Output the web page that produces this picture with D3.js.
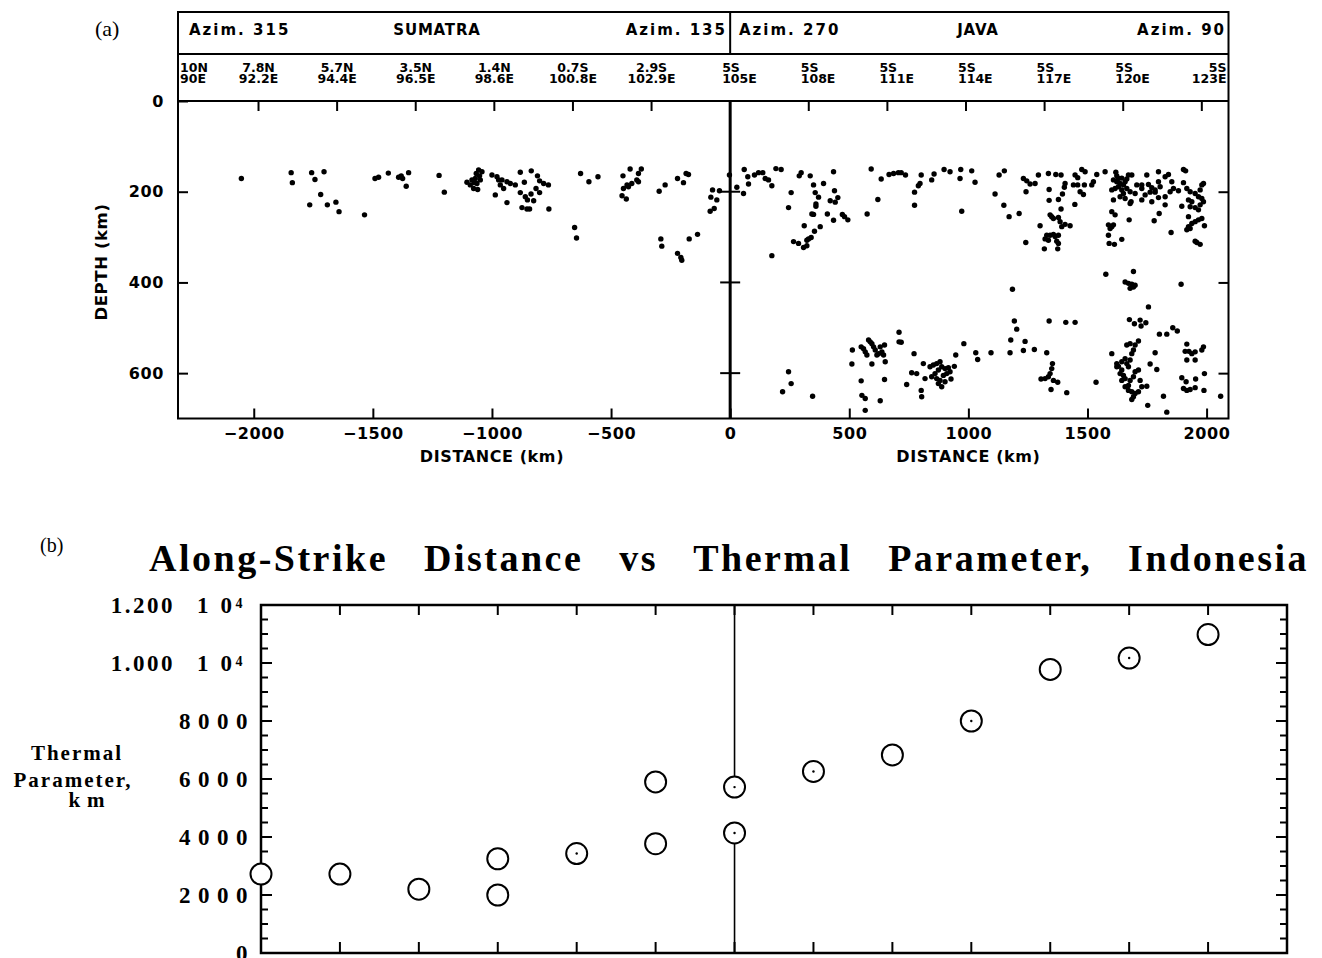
<!DOCTYPE html>
<html>
<head>
<meta charset="utf-8">
<script src="https://cdn.jsdelivr.net/npm/d3@7"></script>
<style>
  body { margin: 0; background: #fff; overflow: hidden; }
</style>
</head>
<body>
<div id="chart"></div>
<script>
// ---------------- data ----------------

// panel (a): earthquakes, [distance km, depth km]
const sumatraQuakes = [
  [-2052,171],[-1843,158],[-1838,180],[-1757,158],[-1743,173],[-1705,156],[-1719,206],[-1765,229],
  [-1691,229],[-1655,223],[-1642,244],[-1535,251],[-1491,171],[-1476,168],[-1435,159],[-1392,168],
  [-1375,171],[-1350,158],[-1360,188],[-1381,165],[-1222,164],[-1200,201],
  [-1105,179],[-1084,174],[-1077,193],[-1056,152],[-1042,156],[-1063,182],[-1049,174],[-1070,171],
  [-1091,185],[-1060,195],[-1066,160],[-1052,165],[-1075,180],
  [-1000,163],[-979,167],[-958,174],[-965,185],[-937,178],[-923,182],[-951,193],[-972,174],[-902,185],
  [-986,207],[-937,224],
  [-881,157],[-835,154],[-809,165],[-864,179],[-800,176],[-783,182],[-763,185],[-815,193],[-881,202],
  [-860,211],[-836,205],[-800,202],[-825,220],[-851,218],[-874,235],[-853,238],[-842,238],[-761,238],
  [-628,160],[-593,178],[-555,167],[-653,279],[-645,302],
  [-450,165],[-420,150],[-373,150],[-385,160],[-392,174],[-413,182],[-433,185],[-448,193],[-385,178],
  [-454,209],[-436,216],[-427,189],
  [-298,199],[-273,185],[-221,171],[-196,180],[-185,160],[-175,162],
  [-291,304],[-287,320],[-172,304],[-137,294],[-221,336],[-207,345],[-203,351],
  [-74,196],[-45,198],[-81,212],[-56,218],[-67,237],[-84,243],[-3,163]
];

const javaQuakes = [
  [59,151],[28,190],[56,204],[74,167],[77,183],[102,163],[119,158],[137,158],[147,171],[161,174],
  [175,187],[192,149],[214,151],[256,202],[245,235],[298,158],[290,165],[336,165],[350,185],[357,202],
  [371,212],[392,182],[434,156],[438,198],[452,213],[420,220],[441,223],[360,227],[360,232],[343,249],
  [350,250],[408,249],[434,263],[471,250],[480,255],[494,262],[311,275],[378,277],[354,287],[340,301],
  [322,307],[329,304],[266,310],[287,314],[308,323],[322,319],[175,341],
  [592,150],[575,249],[620,217],[634,172],[667,162],[686,160],[706,158],[718,158],[736,163],[802,163],
  [797,182],[790,187],[774,201],[774,230],[846,174],[856,161],[898,151],[923,156],[968,151],[965,171],
  [1014,154],[1028,179],[972,243],
  [1112,205],[1129,163],[1151,154],[1149,230],[1171,255],[1213,248],[1231,171],[1245,176],[1242,200],
  [1259,183],[1280,182],[1294,163],[1336,160],[1367,162],[1389,163],[1339,195],[1378,217],[1339,219],
  [1395,205],[1406,182],[1403,190],[1448,163],[1459,169],[1441,185],[1459,185],[1476,151],[1490,156],
  [1469,200],[1483,206],[1487,185],[1518,185],[1525,178],[1539,162],[1574,156],[1447,228],[1389,238],
  [1343,251],[1350,255],[1357,259],[1378,257],[1385,266],[1392,277],[1406,272],[1427,275],[1301,275],
  [1329,296],[1343,296],[1357,294],[1364,299],[1378,296],[1322,304],[1336,307],[1371,309],[1378,314],
  [1319,326],[1375,326],[1241,312],
  [1609,174],[1623,178],[1637,182],[1651,185],[1658,178],[1630,189],[1616,193],[1644,196],[1665,193],
  [1679,200],[1651,204],[1630,171],[1672,163],[1686,163],[1619,157],[1602,196],[1637,211],[1658,215],
  [1683,222],[1679,226],[1609,218],[1700,204],[1728,185],[1749,163],[1756,184],[1770,191],[1798,156],
  [1798,178],[1784,196],[1805,189],[1826,167],[1840,162],[1854,178],[1861,193],[1847,200],[1882,198],
  [1826,211],[1798,213],[1770,222],[1763,201],[1742,207],[1728,218],[1784,201],[1826,229],[1707,185],
  [1728,193],[1644,170],[1665,172],[1623,165],
  [1903,151],[1912,154],[1903,180],[1917,193],[1931,200],[1952,204],[1973,196],[1980,185],[1987,182],
  [1924,218],[1938,222],[1966,211],[1980,215],[1987,222],[1973,229],[1952,235],[1931,233],[1896,232],
  [1966,240],[1924,255],[1938,270],[1952,266],[1966,262],[1980,259],[1917,284],[1931,281],[1924,277],
  [1991,275],[1952,309],[1959,312],[1973,316],[1851,290],[1780,264],[1801,248],
  [1602,244],[1616,251],[1588,273],[1602,277],[1595,281],[1609,273],[1588,296],[1591,314],[1613,316],
  [1644,305],[1675,262],[1577,382],[1693,376],
  [245,597],[256,623],[220,641],[346,651],
  [513,549],[511,580],[550,542],[560,546],[567,553],[574,560],[581,527],[588,531],[595,535],[602,542],
  [609,549],[616,560],[623,557],[630,542],[637,553],[648,538],[651,575],[595,580],[644,560],[550,617],
  [553,649],[567,656],[567,682],[630,661],[648,614],
  [709,510],[709,531],[718,532],[772,557],[762,599],[783,601],[811,579],[818,612],[802,638],[804,652],
  [741,625],
  [839,586],[853,582],[867,579],[881,575],[888,586],[902,590],[916,588],[874,593],[860,601],[846,608],
  [867,612],[881,616],[874,623],[888,630],[902,619],[895,605],[909,601],[923,597],[941,585],[927,613],
  [947,560],
  [981,535],[1031,555],[1039,570],[1095,555],[1175,555],[1178,527],[1193,485],[1203,503],[1185,415],
  [1231,550],[1238,530],[1277,548],[1329,555],[1339,485],[1409,488],[1448,488],
  [1305,613],[1322,612],[1336,608],[1343,601],[1350,590],[1353,579],[1357,616],[1375,620],[1347,636],
  [1413,643],[1536,620],
  [1602,557],[1623,579],[1630,585],[1644,575],[1658,568],[1665,579],[1672,586],[1679,571],[1686,557],
  [1693,549],[1665,538],[1679,535],[1700,538],[1714,529],[1637,601],[1651,605],[1658,612],[1679,616],
  [1693,608],[1700,597],[1714,593],[1721,616],[1644,616],[1658,630],[1672,638],[1686,641],[1700,645],
  [1714,641],[1728,630],[1749,629],[1693,652],[1686,658],[1753,671],[1672,627],[1644,593],[1623,586],
  [1676,482],[1697,491],[1721,483],[1725,496],[1745,489],[1756,454],[1784,555],[1763,580],[1791,592],
  [1802,514],[1833,514],[1858,500],[1877,507],[1819,651],[1833,686],
  [1917,536],[1910,552],[1926,552],[1938,557],[1952,553],[1980,549],[1987,542],[1917,571],[1952,571],
  [1896,610],[1914,619],[1954,613],[1903,634],[1917,638],[1931,636],[1952,632],[1989,638],[1991,601],
  [2059,651],
  [1658,399],[1672,402],[1686,404],[1700,406],[1679,413],[1693,410],[1893,404]
];

// header of panel (a)
const sumatraLocs = [["10N","90E"],["7.8N","92.2E"],["5.7N","94.4E"],["3.5N","96.5E"],
                     ["1.4N","98.6E"],["0.7S","100.8E"],["2.9S","102.9E"]];
const javaLocs = [["5S","105E"],["5S","108E"],["5S","111E"],["5S","114E"],
                  ["5S","117E"],["5S","120E"],["5S","123E"]];
const locStep = 330; // km between location marks
const distTicks = [-2000, -1500, -1000, -500, 0, 500, 1000, 1500, 2000];
const depthTicks = [0, 200, 400, 600];

// panel (b): thermal parameter at the location marks (step index from 5S 105E)
const thermalStep = [-6, -5, -4, -3, -3, -2, -1, -1, 0, 0, 1, 2, 3, 4, 5, 6];
const thermalValue = [2720, 2720, 2200, 3250, 2000, 3430, 5900, 3770, 5720, 4140,
                      6260, 6830, 8000, 9780, 10170, 10980];
const thermalDotted = [0, 0, 0, 0, 0, 1, 0, 0, 1, 1, 1, 0, 1, 0, 1, 0];
const thermalTicks = [0, 2000, 4000, 6000, 8000, 10000, 12000];

// ---------------- drawing ----------------

const W = 1322, H = 958;
const sans = "'DejaVu Sans', sans-serif";
const serif = "'Liberation Serif', 'Times New Roman', serif";

const svg = d3.select("#chart").append("svg")
  .attr("width", W).attr("height", H)
  .attr("viewBox", `0 0 ${W} ${H}`);

////////////////// panel (a) //////////////////

const x = d3.scaleLinear().domain([-2318, 2092]).range([178, 1228.5]);
const y = d3.scaleLinear().domain([0, 700]).range([101, 418.5]);
const headTop = 12, headMid = 54;

const a = svg.append("g");

a.append("text")
  .attr("x", 95).attr("y", 36)
  .style("font", `22px ${serif}`)
  .text("(a)");

// frame incl. header
a.append("rect")
  .attr("x", x.range()[0]).attr("y", headTop)
  .attr("width", x.range()[1] - x.range()[0])
  .attr("height", y.range()[1] - headTop)
  .attr("fill", "none").attr("stroke", "#000").attr("stroke-width", 2);
[headMid, y.range()[0]].forEach((yy) => {
  a.append("line")
    .attr("x1", x.range()[0]).attr("x2", x.range()[1])
    .attr("y1", yy).attr("y2", yy)
    .attr("stroke", "#000").attr("stroke-width", 2);
});
// divider between the two sections
a.append("line")
  .attr("x1", x(0)).attr("x2", x(0)).attr("y1", headTop).attr("y2", headMid)
  .attr("stroke", "#000").attr("stroke-width", 2);
a.append("line")
  .attr("x1", x(0)).attr("x2", x(0)).attr("y1", y.range()[0]).attr("y2", y.range()[1])
  .attr("stroke", "#000").attr("stroke-width", 3);

// azimuth row
const azim = [
  { t: "Azim. 315", x: 189, anchor: "start" },
  { t: "SUMATRA", x: 437, anchor: "middle" },
  { t: "Azim. 135", x: 727, anchor: "end" },
  { t: "Azim. 270", x: 739, anchor: "start" },
  { t: "JAVA", x: 978, anchor: "middle" },
  { t: "Azim. 90", x: 1226, anchor: "end" }
];
a.selectAll(".azim").data(azim).enter().append("text")
  .attr("class", "azim")
  .attr("x", (d) => d.x).attr("y", 35)
  .attr("text-anchor", (d) => d.anchor)
  .style("font", `bold 15px ${sans}`)
  .style("letter-spacing", (d) => d.t.startsWith("Azim") ? "2px" : "0.8px")
  .text((d) => d.t);

// location row
const locs = sumatraLocs.map((l, i) => ({ l, k: i - 7 }))
  .concat(javaLocs.map((l, i) => ({ l, k: i })));
const locText = a.selectAll(".loc").data(locs).enter().append("text")
  .attr("class", "loc")
  .style("font", `bold 12.5px ${sans}`)
  .attr("text-anchor", (d) => d.k === -7 ? "start" : d.k === 6 ? "end" : d.k < 0 ? "middle" : "start")
  .attr("transform", (d) => {
    let px = x(d.k * locStep);
    if (d.k === -7) px = x.range()[0] + 2;
    else if (d.k === 6) px = x.range()[1] - 2;
    else if (d.k >= 0) px -= 8;
    return `translate(${px},0)`;
  });
locText.append("tspan").attr("x", 0).attr("y", 71.5).text((d) => d.l[0]);
locText.append("tspan").attr("x", 0).attr("y", 83).text((d) => d.l[1]);

// location ticks along the top of the plot
a.selectAll(".locTick").data(d3.range(-6, 7).filter((k) => k !== 0)).enter().append("line")
  .attr("x1", (k) => x(k * locStep)).attr("x2", (k) => x(k * locStep))
  .attr("y1", y.range()[0]).attr("y2", y.range()[0] + 10)
  .attr("stroke", "#000").attr("stroke-width", 2);

// distance axis
const xAxis = a.append("g")
  .attr("transform", `translate(0,${y.range()[1]})`)
  .call(d3.axisBottom(x).tickValues(distTicks).tickFormat(d3.format("d"))
    .tickSizeInner(-10).tickSizeOuter(0).tickPadding(9));
xAxis.select(".domain").remove();
xAxis.selectAll("line").attr("stroke-width", 2);
xAxis.selectAll("text")
  .style("font", `bold 16px ${sans}`)
  .style("letter-spacing", "0.6px")
  .attr("fill", "#000");

// depth axis left, ticks on the right frame and on the divider
const yAxis = a.append("g")
  .attr("transform", `translate(${x.range()[0]},0)`)
  .call(d3.axisLeft(y).tickValues(depthTicks).tickSizeInner(-10).tickSizeOuter(0).tickPadding(14));
yAxis.select(".domain").remove();
yAxis.selectAll("line").attr("stroke-width", 2);
yAxis.selectAll("text")
  .style("font", `bold 16px ${sans}`)
  .style("letter-spacing", "0.6px")
  .attr("fill", "#000");

const yRight = a.append("g")
  .attr("transform", `translate(${x.range()[1]},0)`)
  .call(d3.axisRight(y).tickValues(depthTicks.slice(1)).tickSizeInner(-10).tickSizeOuter(0).tickFormat(""));
yRight.select(".domain").remove();
yRight.selectAll("line").attr("stroke-width", 2);

a.selectAll(".midTick").data(depthTicks.slice(1)).enter().append("line")
  .attr("x1", x(0) - 10).attr("x2", x(0) + 10)
  .attr("y1", (d) => y(d)).attr("y2", (d) => y(d))
  .attr("stroke", "#000").attr("stroke-width", 2);

// axis titles
a.append("text")
  .attr("transform", `translate(107,262) rotate(-90)`)
  .attr("text-anchor", "middle")
  .style("font", `bold 16.5px ${sans}`)
  .style("letter-spacing", "0.6px")
  .text("DEPTH (km)");
[-1000, 1000].forEach((d) => {
  a.append("text")
    .attr("x", x(d)).attr("y", 462)
    .attr("text-anchor", "middle")
    .style("font", `bold 16px ${sans}`)
    .style("letter-spacing", "0.6px")
    .text("DISTANCE (km)");
});

// hypocentres
a.selectAll(".quake").data(sumatraQuakes.concat(javaQuakes)).enter().append("circle")
  .attr("class", "quake")
  .attr("cx", (d) => x(d[0]))
  .attr("cy", (d) => y(d[1]))
  .attr("r", 2.7)
  .attr("fill", "#000");

////////////////// panel (b) //////////////////

const xb = d3.scaleLinear().domain([-6 * locStep, 7 * locStep]).range([261, 1287]);
const yb = d3.scaleLinear().domain([0, 12000]).range([953, 605]);
const b = svg.append("g");

b.append("text")
  .attr("x", 40).attr("y", 552)
  .style("font", `20px ${serif}`)
  .text("(b)");

// title, words spread over the plot width
const titleText = "Along-Strike Distance vs Thermal Parameter, Indonesia";
const title = b.append("text")
  .attr("x", 149).attr("y", 571)
  .style("font", `bold 38px ${serif}`)
  .style("letter-spacing", "2.5px")
  .text(titleText);
const natural = title.node().getComputedTextLength();
title.style("word-spacing", (1160 - natural) / (titleText.split(" ").length - 1) + "px");

b.append("rect")
  .attr("x", xb.range()[0]).attr("y", yb.range()[1])
  .attr("width", xb.range()[1] - xb.range()[0])
  .attr("height", yb.range()[0] - yb.range()[1])
  .attr("fill", "none").attr("stroke", "#000").attr("stroke-width", 2.5);

// top and bottom ticks at the location marks
const bx = d3.range(-5, 7).map((k) => k * locStep);
b.selectAll(".bTickTop").data(bx).enter().append("line")
  .attr("x1", (d) => xb(d)).attr("x2", (d) => xb(d))
  .attr("y1", yb.range()[1]).attr("y2", yb.range()[1] + 10)
  .attr("stroke", "#000").attr("stroke-width", 2);
b.selectAll(".bTickBot").data(bx).enter().append("line")
  .attr("x1", (d) => xb(d)).attr("x2", (d) => xb(d))
  .attr("y1", yb.range()[0]).attr("y2", yb.range()[0] - 11)
  .attr("stroke", "#000").attr("stroke-width", 2);

// y ticks both sides, minor every 500
const minor = d3.range(500, 12000, 500);
[[xb.range()[0], 1], [xb.range()[1], -1]].forEach(([px, dir]) => {
  b.selectAll(null).data(minor).enter().append("line")
    .attr("x1", px)
    .attr("x2", (d) => px + dir * (d % 2000 === 0 ? 11 : 7))
    .attr("y1", (d) => yb(d)).attr("y2", (d) => yb(d))
    .attr("stroke", "#000").attr("stroke-width", 2);
});

// y tick labels
thermalTicks.forEach((v) => {
  const ty = yb(v) + 7.5;
  if (v >= 10000) {
    b.append("text")
      .attr("x", 175).attr("y", ty).attr("text-anchor", "end")
      .style("font", `bold 23px ${serif}`)
      .style("letter-spacing", "2.5px")
      .text(d3.format(".3f")(v / 10000));
    b.append("text")
      .attr("x", 197).attr("y", ty)
      .style("font", `bold 23px ${serif}`)
      .style("letter-spacing", "12px")
      .text("10");
    b.append("text")
      .attr("x", 235.5).attr("y", ty - 5)
      .style("font", `bold 14px ${serif}`)
      .text("4");
  } else {
    b.append("text")
      .attr("x", 255).attr("y", ty).attr("text-anchor", "end")
      .style("font", `bold 23px ${serif}`)
      .style("letter-spacing", "7.5px")
      .text(v);
  }
});

// y axis title
const yt = b.append("text")
  .attr("text-anchor", "middle")
  .style("font", `bold 21px ${serif}`)
  .style("letter-spacing", "2px");
yt.append("tspan").attr("x", 77).attr("y", 760).text("Thermal");
yt.append("tspan").attr("x", 73).attr("y", 787).text("Parameter,");
yt.append("tspan").attr("x", 90).attr("y", 807).style("letter-spacing", "7px").text("km");

// divider at 5S 105E, broken where the two measurements sit
const zeroPts = thermalValue.filter((v, i) => thermalStep[i] === 0);
b.append("line")
  .attr("x1", xb(0)).attr("x2", xb(0))
  .attr("y1", yb.range()[1]).attr("y2", yb(d3.max(zeroPts)))
  .attr("stroke", "#000").attr("stroke-width", 1.6);
b.append("line")
  .attr("x1", xb(0)).attr("x2", xb(0))
  .attr("y1", yb(d3.min(zeroPts))).attr("y2", yb.range()[0])
  .attr("stroke", "#000").attr("stroke-width", 1.6);

// data circles
const pts = thermalValue.map((v, i) => ({ s: thermalStep[i] * locStep, v, dot: thermalDotted[i] }));
b.selectAll(".tp").data(pts).enter().append("circle")
  .attr("class", "tp")
  .attr("cx", (d) => xb(d.s)).attr("cy", (d) => yb(d.v))
  .attr("r", 10.5)
  .attr("fill", "#fff").attr("stroke", "#000").attr("stroke-width", 2);
b.selectAll(".tpDot").data(pts.filter((d) => d.dot)).enter().append("circle")
  .attr("class", "tpDot")
  .attr("cx", (d) => xb(d.s)).attr("cy", (d) => yb(d.v))
  .attr("r", 1.2)
  .attr("fill", "#000");
</script>
</body>
</html>
